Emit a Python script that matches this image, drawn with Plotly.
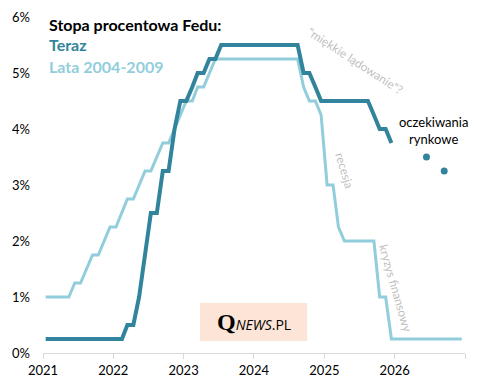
import plotly.graph_objects as go

# ---- data ----
teraz = (
    [0.25] * 12
    + [0.25, 0.25, 0.5, 0.5, 1.0, 1.75, 2.5, 2.5, 3.25, 3.25, 4.0, 4.5]
    + [4.5, 4.75, 5.0, 5.0, 5.25, 5.25, 5.5, 5.5, 5.5, 5.5, 5.5, 5.5]
    + [5.5] * 8 + [5.0, 5.0, 4.75, 4.5]
    + [4.5] * 8 + [4.25, 4.0, 4.0, 3.75]
)
lata_2004_2009 = (
    [1.0, 1.0, 1.0, 1.0, 1.0, 1.25, 1.25, 1.5, 1.75, 1.75, 2.0, 2.25]
    + [2.25, 2.5, 2.75, 2.75, 3.0, 3.25, 3.25, 3.5, 3.75, 3.75, 4.0, 4.25]
    + [4.5, 4.5, 4.75, 4.75, 5.0, 5.25, 5.25, 5.25, 5.25, 5.25, 5.25, 5.25]
    + [5.25] * 8 + [4.75, 4.5, 4.5, 4.25]
    + [3.0, 3.0, 2.25, 2.0, 2.0, 2.0, 2.0, 2.0, 2.0, 1.0, 1.0, 0.25]
    + [0.25] * 12
)
oczekiwania_dates = ["2026-06-15", "2026-09-15"]
oczekiwania_values = [3.5, 3.25]
years = [2021, 2022, 2023, 2024, 2025, 2026, 2027]
year_labels = ["2021", "2022", "2023", "2024", "2025", "2026", ""]
y_ticks = [0, 1, 2, 3, 4, 5, 6]
y_labels = ["0%", "1%", "2%", "3%", "4%", "5%", "6%"]


def month_dates(n):
    return [f"{2021 + m // 12}-{m % 12 + 1:02d}-15" for m in range(n)]


DARK = "#31849B"
LIGHT = "#92CDDC"
GRAY = "#BFBFBF"
FONT = "Lato"

fig = go.Figure()
fig.add_trace(go.Scatter(x=month_dates(len(lata_2004_2009)), y=lata_2004_2009,
                         mode="lines", line=dict(color=LIGHT, width=3),
                         name="Lata 2004-2009", hoverinfo="skip"))
fig.add_trace(go.Scatter(x=month_dates(len(teraz)), y=teraz,
                         mode="lines", line=dict(color=DARK, width=4),
                         name="Teraz", hoverinfo="skip"))
fig.add_trace(go.Scatter(x=oczekiwania_dates, y=oczekiwania_values,
                         mode="markers", marker=dict(color=DARK, size=7),
                         name="oczekiwania", hoverinfo="skip"))

fig.update_layout(
    width=480, height=389,
    margin=dict(l=43, r=15, t=17, b=36),
    paper_bgcolor="white", plot_bgcolor="white",
    showlegend=False,
    font=dict(family=FONT, size=13, color="#000000"),
    xaxis=dict(
        type="date", automargin=False,
        range=["2021-01-01", "2027-01-01"],
        tickvals=[f"{y}-01-01" for y in years],
        ticktext=year_labels,
        showgrid=False, zeroline=False,
        showline=True, linecolor="#D9D9D9", linewidth=1,
        ticks="outside", ticklen=5, tickcolor="#D9D9D9",
        tickfont=dict(family=FONT, size=13, color="#000000"),
    ),
    yaxis=dict(
        range=[0, 6], automargin=False,
        tickvals=y_ticks, ticktext=y_labels,
        showgrid=False, zeroline=False, showline=False,
        ticks="", ticklabelstandoff=12,
        tickfont=dict(family=FONT, size=13, color="#000000"),
    ),
)


def px(x, y):
    return dict(xref="paper", yref="paper", x=(x - 43) / 422, y=(353 - y) / 336)


# watermark box
fig.add_shape(type="rect", xref="paper", yref="paper",
              x0=0.372, x1=0.626, y0=0.036, y1=0.149,
              fillcolor="#FCE4D6", line=dict(width=0), layer="below")
fig.add_annotation(**px(254, 322), xanchor="center", yanchor="middle",
                   text="<span style='font-family:Liberation Serif;font-size:24px'><b>Q</b></span>"
                        "<i>NEWS</i>.PL",
                   showarrow=False, font=dict(family="Open Sans", size=14, color="#000000"))

# title / legend texts
fig.add_annotation(**px(47, 24), xanchor="left", yanchor="middle",
                   text="<b>Stopa procentowa Fedu:</b>", showarrow=False,
                   font=dict(family=FONT, size=16, color="#000000"))
fig.add_annotation(**px(47, 44), xanchor="left", yanchor="middle",
                   text="<b>Teraz</b>", showarrow=False,
                   font=dict(family=FONT, size=16, color=DARK))
fig.add_annotation(**px(47, 66), xanchor="left", yanchor="middle",
                   text="<b>Lata 2004-2009</b>", showarrow=False,
                   font=dict(family=FONT, size=16, color=LIGHT))

# comments
fig.add_annotation(**px(355, 60), xanchor="center", yanchor="middle",
                   text='"miękkie lądowanie"?', textangle=33, showarrow=False,
                   font=dict(family=FONT, size=12, color=GRAY))
fig.add_annotation(**px(345, 170), xanchor="center", yanchor="middle",
                   text="recesja", textangle=73, showarrow=False,
                   font=dict(family=FONT, size=12, color=GRAY))
fig.add_annotation(**px(396, 288), xanchor="center", yanchor="middle",
                   text="kryzys finansowy", textangle=74, showarrow=False,
                   font=dict(family=FONT, size=12, color=GRAY))
fig.add_annotation(**px(433, 130), xanchor="center", yanchor="middle",
                   text="oczekiwania<br>rynkowe", showarrow=False,
                   font=dict(family=FONT, size=13, color="#000000"))

fig.write_html("out.html", config={"displayModeBar": False},
               post_script="document.body.style.margin='0';")
